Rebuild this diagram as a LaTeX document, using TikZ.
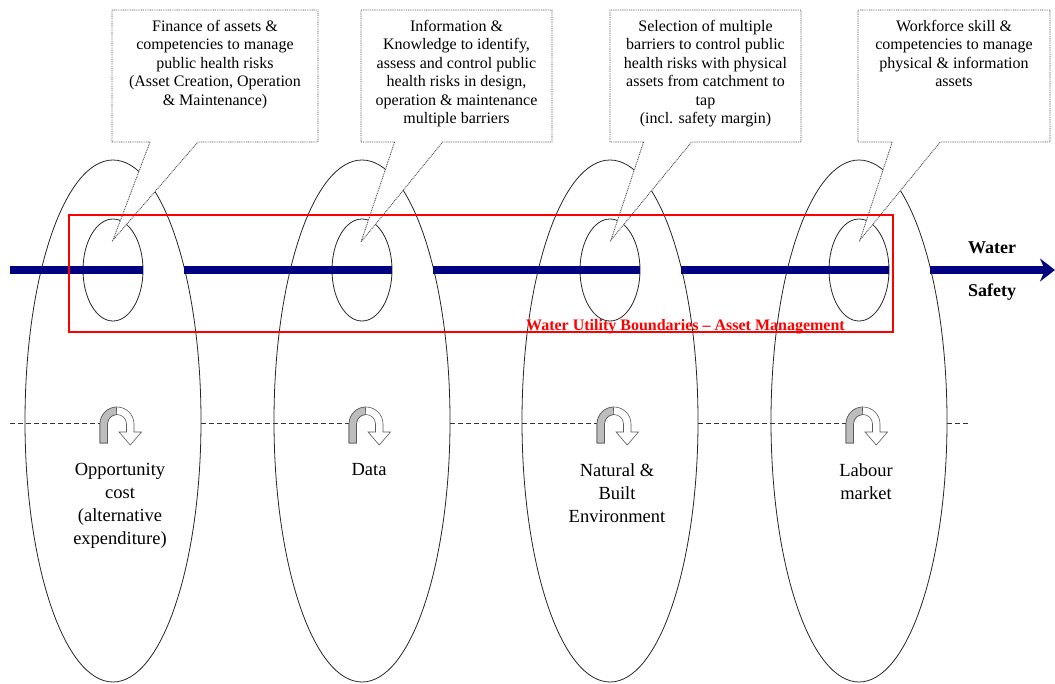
\documentclass[tikz,border=0pt]{standalone}
\usepackage{fontspec}
\setmainfont{Liberation Serif}
\usetikzlibrary{shapes.geometric,shapes.callouts,arrows.meta}
\definecolor{navyline}{HTML}{000080}
\definecolor{utilred}{HTML}{FF0000}
\definecolor{turngray}{HTML}{BDBDBD}
\begin{document}
\begin{tikzpicture}[x=1pt,y=-1pt,
  bigell/.style={draw=black!85, ellipse, minimum width=176pt, minimum height=522pt, inner sep=0pt, outer sep=0pt, line width=0.8pt},
  smallell/.style={draw=black!85, ellipse, minimum width=60pt, minimum height=102pt, inner sep=0pt, outer sep=0pt, line width=0.8pt},
  flow/.style={draw=navyline, line width=7.5pt},
  callbox/.style={rectangle callout, draw=black!70, dash pattern=on 0.9pt off 0.9pt, line width=0.9pt, fill=white, minimum height=132pt, inner sep=0pt, outer sep=0pt, callout pointer width=48pt},
  calltext/.style={anchor=north, align=center, inner sep=0pt, font=\fontsize{16}{18.5}\selectfont},
  lab/.style={anchor=north, align=center, inner sep=0pt, font=\fontsize{18.5}{23}\selectfont},
  midline/.style={draw=black!80, line width=0.8pt, dash pattern=on 5pt off 3pt},
  turn/.pic={
    \path[draw=black!65, fill=white, line width=0.6pt]
      (-17,19) -- (-17,0) arc[start angle=180,end angle=360,radius=17]
      -- (17,8) -- (24.5,8) -- (13.25,21) -- (2,8) -- (9.5,8) -- (9.5,0)
      arc[start angle=360,end angle=180,radius=9.5] -- (-9.5,19) -- cycle;
    \path[draw=black!65, fill=turngray, line width=0.6pt]
      (-17,19) -- (-17,0) arc[start angle=180,end angle=268,radius=17]
      -- (268:9.5) arc[start angle=268,end angle=180,radius=9.5] -- (-9.5,19) -- cycle;
  }
]
\useasboundingbox (0,0) rectangle (1055,683);

% rings
\foreach \n/\x in {1/113,2/362,3/610,4/859} {
  \node[bigell] (E\n) at (\x,421) {};
  \node[smallell] (S\n) at (\x,270) {};
  \coordinate (D\n) at (\x-10,423);
}

% water safety flow
\coordinate (fstart) at (10,270);
\coordinate (fend) at (1055,270);
\draw[flow] (fstart) -- (S1.east);
\draw[flow] (E1.65 |- S2.east) -- (S2.east);
\draw[flow] (E2.65 |- S3.east) -- (S3.east);
\draw[flow] (E3.65 |- S4.east) -- (S4.east);
\draw[flow, -{Stealth[length=15pt,width=23pt,inset=5pt]}] (E4.65 |- fend) -- (fend);

% dashed middle line
\coordinate (dstart) at (10,423);
\coordinate (dend) at (970,423);
\draw[midline] (dstart) -- (D1);
\draw[midline] (E1.east |- dstart) -- (D2);
\draw[midline] (E2.east |- dstart) -- (D3);
\draw[midline] (E3.east |- dstart) -- (D4);
\draw[midline] (E4.east |- dstart) -- (dend);

% turning arrows
\foreach \x in {113,362,610,859} {
  \pic at (\x+4,424) {turn};
}

% callouts
\node[callbox, minimum width=206pt, callout absolute pointer={(113,240)}] (C1) at (215,76) {};
\node[callbox, minimum width=191pt, callout absolute pointer={(361,242)}] (C2) at (456.5,76) {};
\node[callbox, minimum width=191pt, callout absolute pointer={(611,240)}] (C3) at (705.5,76) {};
\node[callbox, minimum width=192pt, callout absolute pointer={(860,240)}] (C4) at (954,76) {};

\node[calltext] (T1) at ([yshift=-10pt]C1.north) {Finance of assets \&\\competencies to manage\\public health risks\\(Asset Creation, Operation\\\& Maintenance)};
\node[calltext] (T2) at ([yshift=-10pt]C2.north) {Information \&\\Knowledge to identify,\\assess and control public\\health risks in design,\\operation \& maintenance\\multiple barriers};
\node[calltext] (T3) at ([yshift=-10pt]C3.north) {Selection of multiple\\barriers to control public\\health risks with physical\\assets from catchment to\\tap\\(incl. safety margin)};
\node[calltext] (T4) at ([yshift=-10pt]C4.north) {Workforce skill \&\\competencies to manage\\physical \& information\\assets};

% utility boundary
\node[draw=utilred, line width=2.8pt, minimum width=824pt, minimum height=117pt, inner sep=0pt, outer sep=0pt] (WU) at (481,273.5) {};
\node[anchor=base east, text=utilred, inner sep=0pt, font=\bfseries\fontsize{16}{18}\selectfont] (WUL) at ([xshift=-48pt,yshift=2pt]WU.south east) {Water Utility Boundaries -- Asset Management};

% water safety label
\node[font=\bfseries\fontsize{18}{20}\selectfont, inner sep=0pt] (water) at (992,248) {Water};
\node[font=\bfseries\fontsize{18}{20}\selectfont, inner sep=0pt] (safety) at (992,292) {Safety};

% lower labels
\node[lab] (L1) at (120,463.5) {Opportunity\\cost\\(alternative\\expenditure)};
\node[lab] (L2) at (369,463.5) {Data};
\node[lab] (L3) at (617,463.5) {Natural \&\\Built\\Environment};
\node[lab] (L4) at (866,463.5) {Labour\\market};
\end{tikzpicture}
\end{document}
